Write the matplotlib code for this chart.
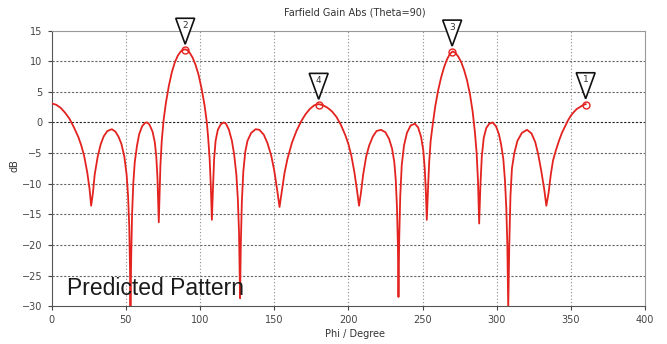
#!/usr/bin/env python3
import matplotlib
matplotlib.use("Agg")
import matplotlib.pyplot as plt
import matplotlib.transforms as mtransforms
from matplotlib.patches import Polygon

# farfield gain (theta=90)
phi = [0, 3, 6, 9, 12, 15, 18, 20, 22, 24, 25.5, 26.6, 27.8, 29, 31, 33, 35, 37.5, 40.5,
       43, 45, 47, 49, 50.5, 51.5, 52.3, 52.8, 53.1, 53.6, 54.2, 55, 56, 57.5, 59, 61, 63,
       64.5, 66, 68, 69.5, 70.5, 71.3, 71.8, 72.2, 72.7, 73.3, 74.2, 75.5, 77, 79, 81, 83,
       85, 87, 89, 90, 91.5, 93, 95, 97, 99, 101, 103, 104.5, 105.5, 106.5, 107.3, 108,
       108.7, 109.5, 110.5, 112, 114, 116, 117.5, 119.5, 121.5, 123, 124.5, 125.5, 126.3,
       127, 127.5, 128.2, 129.2, 130.5, 132, 134.5, 137.5, 140, 143, 145.5, 148, 150, 152,
       153.6, 155, 157, 159, 162, 165, 168, 171, 174, 177, 180, 183, 186, 189, 192, 195,
       198, 200, 202, 204, 205.8, 207.2, 208.5, 210, 212, 214, 216.5, 219, 222, 225, 227.5,
       229.5, 231, 232, 232.8, 233.4, 233.8, 234.3, 235, 236, 237.5, 239.5, 242, 244.8, 247,
       249, 250.5, 251.5, 252.3, 252.9, 253.6, 254.5, 255.5, 256.8, 258.5, 260.5, 262.5,
       264.5, 266.5, 268.5, 270.3, 272, 274, 276, 278, 280, 282, 283.8, 285.3, 286.5, 287.4,
       288.2, 289, 290, 291.3, 293, 295, 297.3, 299.5, 301.5, 303, 304.5, 305.6, 306.5,
       307.2, 307.8, 308.5, 309.3, 310.3, 311.9, 314, 317, 320.5, 323.5, 326, 328, 330, 332,
       333.5, 335, 336.5, 338, 340, 342, 344, 346, 348, 350, 352, 354, 356, 358, 360]
gain = [3.1, 2.9, 2.4, 1.6, 0.6, -0.8, -2.4, -3.8, -5.6, -8.2, -10.8, -13.6, -11.5, -8.5,
        -5.6, -3.6, -2.3, -1.4, -1.1, -1.5, -2.3, -3.5, -5.6, -8.5, -12, -17, -24, -31, -22,
        -15, -10, -6.5, -3.8, -1.9, -0.6, -0.05, 0.0, -0.4, -1.5, -3.2, -5.5, -9, -13, -16.3,
        -12, -7, -3, 0.5, 3.2, 6.0, 8.2, 9.8, 10.9, 11.6, 11.9, 11.95, 11.8, 11.4, 10.6, 9.4,
        7.8, 5.6, 2.9, 0.2, -2.5, -6, -10.5, -15.9, -11, -6, -3, -1.2, -0.3, 0.0, -0.2, -1.2,
        -3.0, -5.2, -8.5, -12.5, -18, -28.7, -20, -13, -8, -4.8, -3.0, -1.7, -1.1, -1.2, -2.0,
        -3.4, -5.4, -7.8, -11, -13.8, -11.5, -8.2, -5.9, -3.3, -1.4, 0.1, 1.3, 2.2, 2.8, 3.0,
        2.8, 2.4, 1.8, 0.9, -0.4, -2.1, -3.5, -5.4, -8, -11, -13.6, -11.5, -8.5, -5.6, -3.8,
        -2.3, -1.4, -1.2, -1.6, -2.7, -4.3, -6.5, -9.5, -14, -20, -28.5, -19, -12, -7, -3.8,
        -1.7, -0.5, -0.2, -0.8, -2.3, -4.5, -7.5, -11.5, -15.9, -11.5, -6.5, -3, -0.5, 2.5,
        5.2, 7.3, 9.0, 10.3, 11.2, 11.6, 11.4, 10.8, 9.9, 8.6, 6.9, 4.6, 1.8, -1.5, -5, -9.5,
        -16.5, -10.5, -5.5, -2.5, -0.9, -0.2, 0.0, -0.6, -1.9, -3.6, -6, -9.5, -14, -20, -30.5,
        -20, -12, -7.5, -5.0, -3.0, -1.7, -1.2, -1.8, -3.2, -5.2, -7.8, -10.8, -13.6, -11.5,
        -8.5, -6.2, -4.5, -3.0, -1.7, -0.7, 0.3, 1.1, 1.7, 2.2, 2.5, 2.8, 3.0]

marker_labels = ["1", "2", "3", "4"]
marker_phi = [360, 90, 270, 180]
marker_gain = [2.9, 11.8, 11.5, 2.8]

xticks = [0, 50, 100, 150, 200, 250, 300, 350, 400]
yticks = [15, 10, 5, 0, -5, -10, -15, -20, -25, -30]

fig = plt.figure(figsize=(6.67, 3.44), dpi=100)
ax = fig.add_axes([0.0775, 0.110, 0.8895, 0.801])

ax.set_xlim(0, 400)
ax.set_ylim(-30, 15)
ax.set_xticks(xticks)
ax.set_yticks(yticks)
ax.tick_params(labelsize=7, colors="#444444", length=3, width=0.8)

# grid: dotted verticals, dashed horizontals, 0 line darker
for xv in xticks[1:-1]:
  ax.axvline(xv, color="#8a8a8a", lw=0.8, ls=(0, (1, 2)), zorder=1)
for yv in yticks[1:-1]:
  c = "#222222" if yv == 0 else "#666666"
  ax.axhline(yv, color=c, lw=0.8, ls=(0, (2, 1.5)), zorder=1)

for s in ["left", "bottom"]:
  ax.spines[s].set_color("#555555")
for s in ["top", "right"]:
  ax.spines[s].set_color("#999999")

ax.plot(phi, gain, color="#e3231f", lw=1.3, zorder=3)
ax.plot(marker_phi, marker_gain, "o", ms=5, mfc="none", mec="#e3231f", mew=1.0, zorder=4)

# inverted triangle labels above the markers
scale = mtransforms.Affine2D().scale(fig.dpi / 72.0)
for lab, xm, ym in zip(marker_labels, marker_phi, marker_gain):
  tr = scale + mtransforms.ScaledTranslation(xm, ym, ax.transData)
  tri = Polygon([(-6.8, 23.0), (6.8, 23.0), (0, 4.3)], closed=True, fc="white",
                ec="#111111", lw=1.2, transform=tr, clip_on=False, zorder=5)
  ax.add_patch(tri)
  ax.annotate(lab, (xm, ym), xytext=(0, 18), textcoords="offset points", ha="center",
              va="center", fontsize=6.5, color="#333333", zorder=6, annotation_clip=False)

ax.text(10.3, -28.2, "Predicted Pattern", fontsize=16.5, family="Liberation Sans",
        color="#1a1a1a", va="baseline", ha="left", zorder=6)

fig.text(0.532, 0.965, "Farfield Gain Abs (Theta=90)", fontsize=7, color="#333333",
         ha="center", va="center")
fig.text(0.532, 0.03, "Phi / Degree", fontsize=7, color="#333333", ha="center", va="center")
fig.text(0.021, 0.52, "dB", fontsize=7, color="#333333", ha="center", va="center", rotation=90)

fig.savefig("out.png", dpi=100)
